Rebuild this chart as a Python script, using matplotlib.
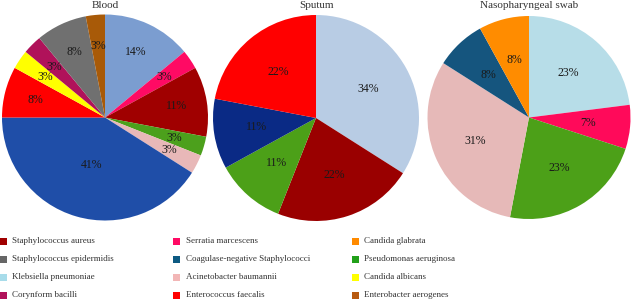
import matplotlib
matplotlib.use('Agg')
import matplotlib.pyplot as plt
from matplotlib.patches import Rectangle

plt.rcParams['font.family'] = ['Liberation Serif', 'DejaVu Serif']

# pie data, clockwise from 12 o'clock
blood_vals = [14, 3, 11, 3, 3, 41, 8, 3, 3, 8, 3]
blood_cols = ['#7b9dd0', '#ff0a64', '#a00000', '#4ca01c', '#e8b8b8', '#1f4ea8',
              '#ff0000', '#ffff00', '#b0125a', '#707070', '#a85a08']
sputum_vals = [34, 22, 11, 11, 22]
sputum_cols = ['#b8cce4', '#9a0000', '#4ca018', '#0a2a85', '#ff0000']
naso_vals = [23, 7, 23, 31, 8, 8]
naso_cols = ['#b7dde8', '#ff0a5a', '#4ca018', '#e6b9b8', '#15557e', '#ff8c00']
titles = ['Blood', 'Sputum', 'Nasopharyngeal swab']

# legend entries (column by column)
leg_names = ['Staphylococcus aureus', 'Staphylococcus epidermidis', 'Klebsiella pneumoniae', 'Corynform bacilli',
             'Serratia marcescens', 'Coagulase-negative Staphylococci', 'Acinetobacter baumannii', 'Enterococcus faecalis',
             'Candida glabrata', 'Pseudomonas aeruginosa', 'Candida albicans', 'Enterobacter aerogenes']
leg_cols = ['#a00000', '#666666', '#a8dcea', '#b0125a',
            '#ff0a64', '#0d5a82', '#f2b6b6', '#ff0000',
            '#ff8a00', '#22a01a', '#ffff00', '#b85a10']

W, H = 631, 301
fig = plt.figure(figsize=(W/100, H/100), dpi=100)

# pie centres / radius in pixels
pies = [(blood_vals, blood_cols, 105, 117.5, 103, 0.70),
        (sputum_vals, sputum_cols, 316, 118, 103, 0.58),
        (naso_vals, naso_cols, 529, 117.5, 101.5, 0.58)]

for i, (vals, cols, cx, cy, r, pd_) in enumerate(pies):
    ax = fig.add_axes([(cx-r)/W, (H-cy-r)/H, 2*r/W, 2*r/H])
    wedges, texts, auto = ax.pie(vals, colors=cols, startangle=90, counterclock=False,
                                 autopct='%d%%', pctdistance=pd_,
                                 textprops=dict(fontsize=8.5, color='#1a1a1a'),
                                 wedgeprops=dict(linewidth=0))
    if i == 0:
        # the big slice has its label pulled in
        x, y = auto[5].get_position()
        auto[5].set_position((x*0.48/0.70, y*0.48/0.70))
    ax.set_xlim(-1, 1)
    ax.set_ylim(-1, 1)
    ax.set_aspect('auto')
    fig.text(cx/W, 1-5/H, titles[i], ha='center', va='center', fontsize=8, color='#333333')

col_x = [0, 173, 352]
row_y = [241, 259, 277, 295]
for k, (name, c) in enumerate(zip(leg_names, leg_cols)):
    x = col_x[k // 4]
    y = row_y[k % 4]
    fig.add_artist(Rectangle((x/W, (H-y-3.5)/H), 7/W, 7/H, facecolor=c, edgecolor='none',
                             transform=fig.transFigure))
    fig.text((x+12.5)/W, 1-y/H, name, ha='left', va='center', fontsize=6.5, color='#333333')

fig.savefig('out.png', dpi=100)
